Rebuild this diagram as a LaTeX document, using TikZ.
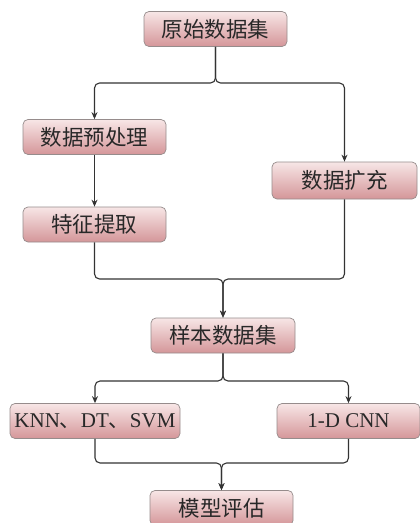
\documentclass[tikz,border=0pt]{standalone}
\usepackage{fontspec}
\setmainfont{Liberation Serif}
\newfontfamily\cjk{Noto Sans CJK SC}
\usetikzlibrary{arrows.meta}
\definecolor{boxtop}{RGB}{247,230,230}
\definecolor{boxbot}{RGB}{212,150,153}
\definecolor{boxline}{RGB}{150,140,140}
\definecolor{txt}{RGB}{40,40,40}
\begin{document}
\begin{tikzpicture}[x=1pt,y=-1pt,
  box/.style={draw=boxline, line width=0.7pt, rounded corners=5pt,
    top color=boxtop, bottom color=boxbot, text=txt,
    minimum height=35pt, inner sep=0pt, font=\fontsize{21.5}{23}\selectfont},
  conn/.style={draw=black!80, line width=1.1pt, rounded corners=5pt},
  arr/.style={conn, -{Stealth[length=7pt,width=6pt]}}]
\useasboundingbox (0,0) rectangle (420,523);
\node[box, minimum width=143pt] (raw) at (215.5,29) {\cjk 原始数据集};
\node[box, minimum width=143pt] (pre) at (94.5,137) {\cjk 数据预处理};
\node[box, minimum width=145pt, minimum height=37pt] (aug) at (344.5,180.5) {\cjk 数据扩充};
\node[box, minimum width=143pt] (feat) at (94.5,224.5) {\cjk 特征提取};
\node[box, minimum width=144pt] (samp) at (223,335.5) {\cjk 样本数据集};
\node[box, minimum width=170pt, font=\fontsize{21}{23}\selectfont] (ml) at (95,421) {KNN{\cjk 、}DT{\cjk 、}SVM};
\node[box, minimum width=143pt, font=\fontsize{21}{23}\selectfont] (cnn) at (348.5,421) {1-D CNN};
\node[box, minimum width=143pt] (eval) at (221.5,508) {\cjk 模型评估};
\coordinate (s1) at (215.5,83);
\coordinate (m1) at (223,279);
\coordinate (s2) at (223,381);
\coordinate (m2) at (221.5,463);
\draw[arr] (raw.south) -- (s1) -| (pre.north);
\draw[arr] (raw.south) -- (s1) -| (aug.north);
\draw[arr] (pre.south) -- (feat.north);
\draw[arr] (feat.south) |- (m1) -- (samp.north);
\draw[arr] (aug.south) |- (m1) -- (samp.north);
\draw[arr] (samp.south) -- (s2) -| (ml.north);
\draw[arr] (samp.south) -- (s2) -| (cnn.north);
\draw[arr] (ml.south) |- (m2) -- (eval.north);
\draw[arr] (cnn.south) |- (m2) -- (eval.north);
\end{tikzpicture}
\end{document}
